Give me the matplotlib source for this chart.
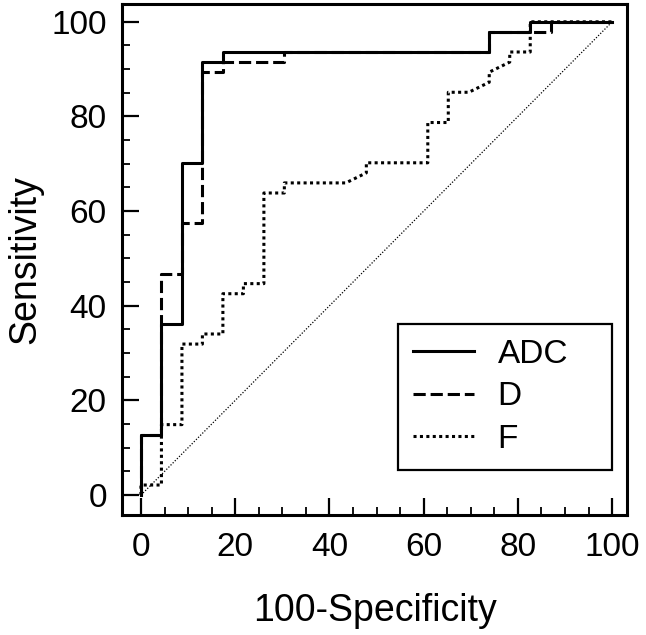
#!/usr/bin/env python3
"""ROC curves for ADC, D and F (100-Specificity vs Sensitivity)."""

import matplotlib

matplotlib.use("Agg")
import matplotlib.pyplot as plt
from matplotlib.ticker import MultipleLocator

plt.rcParams["font.family"] = ["Liberation Sans", "DejaVu Sans"]

# ROC vertices in percent (23 negatives, 47 positives)
ADC_FPR = [0, 0, 4.35, 4.35, 8.70, 8.70, 13.04, 13.04, 17.39, 17.39,
           73.91, 73.91, 82.61, 82.61, 100]
ADC_TPR = [0, 12.77, 12.77, 36.17, 36.17, 70.21, 70.21, 91.49, 91.49, 93.62,
           93.62, 97.87, 97.87, 100, 100]

D_FPR = [0, 0, 4.35, 4.35, 8.70, 8.70, 13.04, 13.04, 17.39, 17.39,
         30.43, 30.43, 73.91, 73.91, 86.96, 86.96, 100]
D_TPR = [0, 12.77, 12.77, 46.81, 46.81, 57.45, 57.45, 89.36, 89.36, 91.49,
         91.49, 93.62, 93.62, 97.87, 97.87, 100, 100]

F_FPR = [0, 0, 4.35, 4.35, 8.70, 8.70, 13.04, 13.04, 17.39, 17.39,
         21.74, 21.74, 26.09, 26.09, 30.43, 30.43, 43.48, 47.83, 47.83,
         60.87, 60.87, 65.22, 65.22, 69.57, 73.91, 73.91, 78.26, 78.26,
         82.61, 82.61, 82.61, 100]
F_TPR = [0, 2.13, 2.13, 14.89, 14.89, 31.91, 31.91, 34.04, 34.04, 42.55,
         42.55, 44.68, 44.68, 63.83, 63.83, 65.96, 65.96, 68.09, 70.21,
         70.21, 78.72, 78.72, 85.11, 85.11, 87.23, 89.36, 91.49, 93.62,
         93.62, 97.87, 100, 100]

REF_LINE = [0, 100]

TICK_FONT = 24
LABEL_FONT = 27
LW = 2.2


def main() -> None:
    fig = plt.figure(figsize=(6.46, 6.35), dpi=100)
    ax = fig.add_axes([0.189, 0.189, 0.782, 0.805])

    ax.plot(REF_LINE, REF_LINE, color="black", lw=0.9, linestyle=(0, (1, 1.4)))
    ax.plot(F_FPR, F_TPR, color="black", lw=LW, linestyle=(0, (1, 1.1)), label="F")
    ax.plot(D_FPR, D_TPR, color="black", lw=LW, linestyle=(0, (4.0, 1.6)), label="D")
    ax.plot(ADC_FPR, ADC_TPR, color="black", lw=LW, label="ADC")

    ax.set_xlim(-4, 103.2)
    ax.set_ylim(-4.2, 103.8)
    ax.xaxis.set_major_locator(MultipleLocator(20))
    ax.yaxis.set_major_locator(MultipleLocator(20))
    ax.xaxis.set_minor_locator(MultipleLocator(5))
    ax.yaxis.set_minor_locator(MultipleLocator(5))
    ax.tick_params(which="major", direction="in", length=12, width=1.6,
                   labelsize=TICK_FONT)
    ax.tick_params(axis="x", which="major", pad=12)
    ax.tick_params(axis="y", which="major", pad=11)
    ax.tick_params(which="minor", direction="in", length=6, width=1.3)
    for spine in ax.spines.values():
        spine.set_linewidth(2.2)

    ax.set_xlabel("100-Specificity", fontsize=LABEL_FONT, labelpad=22)
    ax.set_ylabel("Sensitivity", fontsize=LABEL_FONT, labelpad=6)

    handles, labels = ax.get_legend_handles_labels()
    order = [2, 1, 0]
    leg = ax.legend(
        [handles[i] for i in order],
        [labels[i] for i in order],
        loc="lower left",
        bbox_to_anchor=(0.5465, 0.088, 0.424, 0.1),
        mode="expand",
        borderaxespad=0,
        fontsize=TICK_FONT,
        handlelength=1.83,
        handletextpad=0.7,
        labelspacing=0.35,
        borderpad=0.45,
        fancybox=False,
        framealpha=1,
    )
    leg.get_frame().set_edgecolor("black")
    leg.get_frame().set_linewidth(1.6)

    fig.savefig("out.png", dpi=100)
    plt.close(fig)


if __name__ == "__main__":
    main()
